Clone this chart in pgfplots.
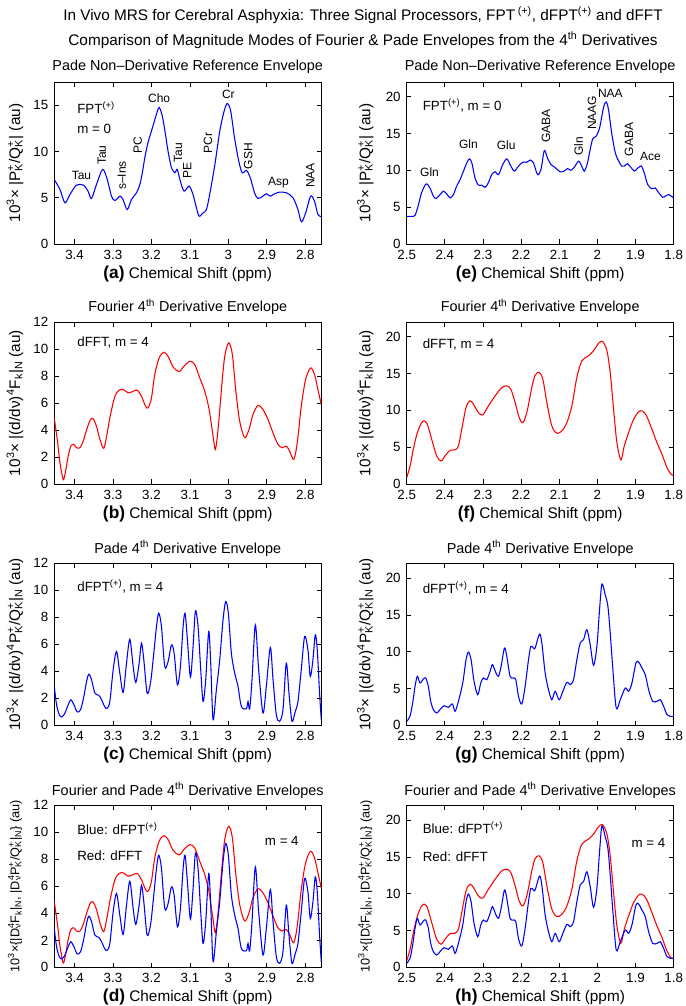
\documentclass[border=0pt]{standalone}
\usepackage{fontspec}
\setmainfont{Liberation Sans}
\usepackage{pgfplots}
\usepackage{pgfplotstable}
\pgfplotsset{compat=1.18}
\newcommand{\supsub}[2]{\rlap{\textsuperscript{#1}}\textsubscript{#2}}
\newcommand{\labfont}{\fontsize{9}{10}\selectfont}
\newcommand{\txtfont}{\fontsize{10}{12}\selectfont}
\definecolor{mblue}{rgb}{0,0,1}
\definecolor{mred}{rgb}{1,0,0}

\pgfplotstableread{
x y
3.453 6.98
3.438 5.89
3.425 4.45
3.412 5.35
3.395 6.36
3.377 6.36
3.365 5.71
3.356 4.92
3.343 6.43
3.327 8.06
3.315 6.98
3.304 5.17
3.295 4.70
3.282 5.17
3.274 4.81
3.263 3.72
3.252 4.81
3.239 5.53
3.230 6.43
3.223 7.88
3.217 9.40
3.209 10.95
3.196 12.76
3.187 14.02
3.180 14.75
3.172 13.85
3.165 12.22
3.157 10.05
3.148 8.24
3.139 7.70
3.133 8.06
3.125 6.79
3.115 5.71
3.102 6.25
3.092 5.35
3.083 3.90
3.076 3.00
3.066 3.36
3.057 3.72
3.047 5.71
3.035 8.60
3.023 12.03
3.012 14.20
3.003 15.18
2.994 14.38
2.984 11.49
2.973 8.96
2.964 7.70
2.953 7.95
2.943 7.16
2.932 5.53
2.923 4.92
2.910 5.17
2.901 5.42
2.891 5.17
2.880 5.42
2.867 5.60
2.849 5.53
2.832 4.99
2.819 3.72
2.810 2.39
2.799 3.36
2.786 5.17
2.776 4.63
2.767 3.18
2.758 2.96
}\dataA

\pgfplotstableread{
x y
2.500 3.76
2.487 3.76
2.478 3.90
2.469 5.35
2.461 6.94
2.449 8.16
2.439 7.60
2.430 6.50
2.423 6.17
2.4125 6.70
2.404 7.17
2.395 6.80
2.386 6.26
2.3775 6.70
2.369 7.85
2.360 8.75
2.351 9.90
2.3425 11.00
2.3355 11.56
2.329 11.00
2.321 9.00
2.312 8.00
2.303 8.00
2.294 7.70
2.286 8.30
2.277 9.43
2.268 9.80
2.259 9.43
2.248 10.80
2.2375 11.56
2.229 10.80
2.218 9.90
2.207 10.57
2.1955 11.10
2.185 11.10
2.176 11.40
2.1675 11.00
2.159 9.66
2.154 9.43
2.147 10.34
2.139 12.70
2.131 11.70
2.122 10.80
2.111 10.40
2.0975 9.80
2.087 9.90
2.078 10.25
2.0695 10.00
2.061 10.40
2.049 11.25
2.041 10.57
2.034 9.90
2.026 11.00
2.019 12.80
2.012 14.30
2.003 14.65
1.994 15.80
1.984 18.50
1.977 19.30
1.971 18.30
1.962 14.90
1.953 12.40
1.944 11.25
1.936 10.57
1.9295 10.57
1.921 10.90
1.912 10.40
1.903 9.90
1.894 10.30
1.885 10.60
1.877 9.66
1.868 8.07
1.857 7.50
1.848 7.60
1.839 6.94
1.829 6.35
1.822 6.50
1.813 6.70
1.800 6.26
}\dataE

\pgfplotstableread{
x y
3.453 4.90
3.445 3.30
3.438 1.58
3.431 0.47
3.428 0.35
3.4225 1.08
3.4165 2.07
3.4095 2.81
3.402 2.93
3.395 2.69
3.386 2.69
3.3775 3.18
3.367 4.16
3.3585 4.78
3.3515 4.83
3.343 4.29
3.334 3.30
3.324 2.64
3.315 3.80
3.3065 5.15
3.295 6.50
3.284 6.95
3.2735 7.00
3.2605 6.75
3.2475 6.87
3.2365 6.95
3.226 6.50
3.2155 5.77
3.2085 5.64
3.200 6.38
3.1915 8.10
3.180 9.34
3.168 9.76
3.1567 9.46
3.1437 8.67
3.128 8.33
3.116 8.72
3.100 9.09
3.0875 8.85
3.0745 7.86
3.0615 6.88
3.050 5.52
3.0398 3.55
3.0338 2.56
3.0268 4.04
3.018 7.00
3.0095 9.46
2.999 10.45
2.9896 9.59
2.981 7.00
2.9706 4.66
2.9576 3.43
2.9463 4.04
2.936 5.15
2.923 5.82
2.910 5.52
2.897 4.78
2.884 3.80
2.871 2.93
2.8597 2.69
2.8494 2.81
2.8407 2.44
2.830 1.82
2.8208 3.06
2.8104 5.77
2.7991 7.74
2.7862 8.60
2.7758 8.10
2.7671 7.00
2.7584 5.89
}\dataB

\pgfplotstableread{
x y
2.5 0.86
2.491 2.45
2.4825 4.72
2.472 6.98
2.4606 8.34
2.4536 8.57
2.4458 8.12
2.4344 6.08
2.4213 3.81
2.4099 3.13
2.3994 3.81
2.3863 4.58
2.3731 4.63
2.3644 5.17
2.3556 7.44
2.3443 10.39
2.3338 11.29
2.325 10.84
2.3119 9.70
2.3005 9.39
2.2856 10.60
2.2681 11.97
2.2506 13.10
2.2375 13.33
2.227 12.88
2.2156 11.07
2.2051 9.02
2.1955 8.34
2.185 9.70
2.1719 13.10
2.1631 14.78
2.1526 15.15
2.143 14.24
2.1325 11.07
2.1194 7.89
2.1063 6.89
2.0931 7.21
2.08 8.34
2.0669 10.60
2.0538 14.47
2.0406 16.73
2.0231 17.41
2.01 18.10
1.9969 19.10
1.9864 19.37
1.975 18.10
1.9663 15.15
1.9575 10.16
1.9488 5.62
1.9383 3.27
1.9295 5.17
1.9181 6.98
1.905 8.80
1.8919 9.80
1.8831 9.93
1.8718 9.34
1.8569 7.44
1.8438 5.62
1.8306 4.04
1.8175 2.22
1.807 1.32
1.8 1.18
}\dataF

\pgfplotstableread{
x y
3.4528 2.88
3.4468 1.53
3.4398 0.79
3.4329 0.62
3.4251 0.91
3.4165 1.53
3.4095 1.90
3.4017 1.53
3.3931 0.99
3.3844 1.16
3.3758 2.14
3.3688 3.25
3.3628 3.79
3.3558 3.38
3.3472 2.39
3.3368 2.22
3.3299 1.90
3.3212 1.36
3.3152 1.26
3.3082 1.77
3.2996 4.12
3.2909 5.47
3.2823 3.87
3.2736 2.44
3.2649 4.61
3.2563 6.38
3.2476 4.36
3.2407 3.18
3.2320 4.61
3.2260 6.09
3.2199 4.85
3.2113 2.39
3.2026 3.13
3.1957 4.85
3.1870 7.32
3.1810 8.30
3.1740 7.32
3.1654 4.36
3.1567 4.73
3.1480 5.96
3.1411 5.35
3.1325 3.00
3.1247 4.36
3.1177 7.32
3.1126 8.30
3.1065 6.33
3.0987 3.57
3.0918 5.84
3.0857 8.48
3.0788 7.32
3.0719 4.12
3.0658 1.77
3.0589 3.38
3.0511 6.95
3.0459 4.61
3.0398 0.42
3.0312 2.64
3.0225 4.85
3.0139 7.81
3.0069 9.17
3.0000 8.30
2.9922 5.35
2.9835 3.87
2.9749 2.88
2.9662 1.40
2.9532 1.23
2.9489 1.77
2.9446 1.21
2.9385 3.38
2.9299 7.44
2.9212 4.12
2.9100 0.91
2.9013 2.88
2.8909 5.77
2.8838 3.38
2.8753 0.79
2.8667 0.30
2.8580 1.16
2.8494 4.61
2.8424 2.39
2.8346 0.30
2.8260 1.03
2.8190 1.77
2.8104 4.12
2.8017 6.58
2.7931 5.59
2.7870 3.62
2.7801 4.85
2.7740 6.70
2.7688 5.59
2.7628 2.39
2.7584 0.42
}\dataC

\pgfplotstableread{
x y
2.5 0.54
2.4913 1.22
2.4843 3.03
2.4781 5.29
2.472 6.65
2.465 5.75
2.4563 6.29
2.4501 6.43
2.4431 5.29
2.437 3.26
2.43 2.13
2.4213 1.67
2.4125 2.13
2.402 2.67
2.3906 2.44
2.3801 2.90
2.3731 1.90
2.3644 3.26
2.353 5.75
2.3443 8.91
2.3381 9.95
2.3311 8.91
2.3233 5.97
2.3136 4.16
2.3058 5.75
2.2988 6.43
2.29 6.20
2.2813 7.33
2.2751 8.24
2.2664 7.19
2.2594 6.65
2.2524 8.00
2.2436 10.50
2.2375 9.37
2.2288 6.65
2.22 6.43
2.2139 6.20
2.2069 3.94
2.1981 2.90
2.1894 5.29
2.1806 8.91
2.1745 10.72
2.1675 10.50
2.1631 10.50
2.1518 12.40
2.1456 11.18
2.1369 7.10
2.1281 4.84
2.1194 3.48
2.1106 4.62
2.1001 3.48
2.0905 4.62
2.08 5.84
2.0713 5.52
2.0625 6.20
2.0538 8.91
2.045 11.18
2.0363 11.63
2.0275 12.99
2.0188 10.95
2.01 8.14
2.0013 10.72
1.9943 15.70
1.9881 19.19
1.9794 17.74
1.9724 16.15
1.9663 12.53
1.9593 7.56
1.9505 2.35
1.94 3.48
1.9269 5.07
1.9181 4.62
1.9094 5.75
1.8989 8.46
1.8919 8.60
1.8831 7.78
1.8744 6.88
1.8656 4.84
1.8551 3.26
1.8438 3.26
1.835 3.48
1.8263 2.58
1.8175 1.45
1.8088 1.22
1.8 1.22
}\dataG

\pgfplotsset{
  panel/.style={
    scale only axis, width=200.25pt, height=121.5pt, anchor=north west,
    x dir=reverse, tick align=inside, tick pos=both,
    major tick length=3.5pt,
    axis line style={line width=0.5pt},
    every tick/.style={black, line width=0.5pt},
    tick label style={font=\fontsize{10}{12}\selectfont},
    xticklabel style={yshift=-1pt},
    yticklabel style={xshift=-1pt},
    /pgf/number format/assume math mode=true,
    every axis title/.style={at={(0.5,1.0926)}, anchor=center, font=\fontsize{10.8}{12}\selectfont},
    every axis x label/.style={at={(0.5,-0.185)}, anchor=center, font=\fontsize{11.5}{13}\selectfont},
    every axis y label/.style={at={(-0.147,0.5)}, rotate=90, anchor=center, font=\fontsize{11.5}{13}\selectfont},
    ymin=0,
    every axis plot/.append style={line width=0.8pt, smooth, tension=0.5},
  },
  leftp/.style={panel, xmin=2.7584, xmax=3.4528, xtick={2.8,2.9,3,3.1,3.2,3.3,3.4}},
  rightp/.style={panel, xmin=1.8, xmax=2.5, xtick={1.8,1.9,2,2.1,2.2,2.3,2.4,2.5},
     every axis y label/.style={at={(-0.155,0.5)}, rotate=90, anchor=center, font=\fontsize{11.5}{13}\selectfont}},
  lowY/.style={ymax=12, ytick={0,2,4,6,8,10,12}},
  highY/.style={ymax=22, ytick={0,5,10,15,20}},
}
\newcommand{\xl}[1]{{\fontsize{13}{15}\selectfont\bfseries (#1)} Chemical Shift (ppm)}

\begin{document}
\begin{tikzpicture}
\path[use as bounding box] (0pt,0pt) rectangle (513.75pt,-754.5pt);
\node[font=\fontsize{11.5}{13}\selectfont] at (272.25pt,-11.25pt) {In Vivo MRS for Cerebral Asphyxia: Three Signal Processors, FPT\,\textsuperscript{(+)}, dFPT\textsuperscript{(+)} and dFFT};
\node[font=\fontsize{11.5}{13}\selectfont] at (272.25pt,-30pt) {Comparison of Magnitude Modes of Fourier \& Pade Envelopes from the 4\textsuperscript{th} Derivatives};

% (a)
\begin{axis}[leftp, at={(40.7pt,-61.5pt)}, ymax=17.5, ytick={0,5,10,15},
  title={Pade Non–Derivative Reference Envelope}, xlabel={\xl{a}},
  ylabel={10\textsuperscript{3}× |P\supsub{+}{K}/Q\supsub{+}{K}| (au)}]
\addplot[mblue] table {\dataA};
\node[font=\txtfont, anchor=west] at (axis cs:3.405,14.75) {FPT\textsuperscript{(+)}};
\node[font=\txtfont, anchor=west] at (axis cs:3.405,12.4) {m = 0};
\node[font=\labfont] at (axis cs:3.382,7.4) {Tau};
\node[font=\labfont, rotate=90] at (axis cs:3.329,9.6) {Tau};
\node[font=\labfont, rotate=90] at (axis cs:3.277,7.4) {s–Ins};
\node[font=\labfont, rotate=90] at (axis cs:3.236,10.7) {PC};
\node[font=\labfont] at (axis cs:3.180,15.8) {Cho};
\node[font=\labfont, rotate=90] at (axis cs:3.131,9.9) {Tau};
\node[font=\labfont, rotate=90] at (axis cs:3.107,7.9) {PE};
\node[font=\labfont, rotate=90] at (axis cs:3.053,10.9) {PCr};
\node[font=\labfont] at (axis cs:3.0,16.2) {Cr};
\node[font=\labfont, rotate=90] at (axis cs:2.948,9.5) {GSH};
\node[font=\labfont] at (axis cs:2.870,6.6) {Asp};
\node[font=\labfont, rotate=90] at (axis cs:2.787,7.4) {NAA};
\end{axis}

% (e)
\begin{axis}[rightp, highY, at={(305pt,-61.5pt)},
  title={Pade Non–Derivative Reference Envelope}, xlabel={\xl{e}},
  ylabel={10\textsuperscript{3}× |P\supsub{+}{K}/Q\supsub{+}{K}| (au)}]
\addplot[mblue] table {\dataE};
\node[font=\txtfont, anchor=west] at (axis cs:2.47,18.8) {FPT\textsuperscript{(+)}, m = 0};
\node[font=\labfont] at (axis cs:2.44,9.7) {Gln};
\node[font=\labfont] at (axis cs:2.338,13.5) {Gln};
\node[font=\labfont] at (axis cs:2.239,13.4) {Glu};
\node[font=\labfont, rotate=90] at (axis cs:2.135,16.0) {GABA};
\node[font=\labfont, rotate=90] at (axis cs:2.049,13.3) {Gln};
\node[font=\labfont, rotate=90] at (axis cs:2.014,17.8) {NAAG};
\node[font=\labfont] at (axis cs:1.966,20.45) {NAA};
\node[font=\labfont, rotate=90] at (axis cs:1.917,14.2) {GABA};
\node[font=\labfont] at (axis cs:1.861,11.9) {Ace};
\end{axis}

% (b)
\begin{axis}[leftp, lowY, at={(40.7pt,-241.5pt)},
  title={Fourier 4\textsuperscript{th} Derivative Envelope}, xlabel={\xl{b}},
  ylabel={10\textsuperscript{3}× |(d/dν)\textsuperscript{4}F\textsubscript{k}|\textsubscript{N} (au)}]
\addplot[mred] table {\dataB};
\node[font=\txtfont, anchor=west] at (axis cs:3.405,10.45) {dFFT, m = 4};
\end{axis}

% (f)
\begin{axis}[rightp, highY, at={(305pt,-241.5pt)},
  title={Fourier 4\textsuperscript{th} Derivative Envelope}, xlabel={\xl{f}},
  ylabel={10\textsuperscript{3}× |(d/dν)\textsuperscript{4}F\textsubscript{k}|\textsubscript{N} (au)}]
\addplot[mred] table {\dataF};
\node[font=\txtfont, anchor=west] at (axis cs:2.47,19.0) {dFFT, m = 4};
\end{axis}

% (c)
\begin{axis}[leftp, lowY, at={(40.7pt,-422.5pt)},
  title={Pade 4\textsuperscript{th} Derivative Envelope}, xlabel={\xl{c}},
  ylabel={10\textsuperscript{3}× |(d/dν)\textsuperscript{4}P\supsub{+}{K}/Q\supsub{+}{K}|\textsubscript{N} (au)}]
\addplot[mblue] table {\dataC};
\node[font=\txtfont, anchor=west] at (axis cs:3.405,10.3) {dFPT\textsuperscript{(+)}, m = 4};
\end{axis}

% (g)
\begin{axis}[rightp, highY, at={(305pt,-422.5pt)},
  title={Pade 4\textsuperscript{th} Derivative Envelope}, xlabel={\xl{g}},
  ylabel={10\textsuperscript{3}× |(d/dν)\textsuperscript{4}P\supsub{+}{K}/Q\supsub{+}{K}|\textsubscript{N} (au)}]
\addplot[mblue] table {\dataG};
\node[font=\txtfont, anchor=west] at (axis cs:2.47,18.6) {dFPT\textsuperscript{(+)}, m = 4};
\end{axis}

% (d)
\begin{axis}[leftp, lowY, at={(40.7pt,-604pt)},
  title={Fourier and Pade 4\textsuperscript{th} Derivative Envelopes}, xlabel={\xl{d}},
  every axis y label/.style={at={(-0.147,0.5)}, rotate=90, anchor=center, font=\fontsize{9.5}{11}\selectfont},
  ylabel={10\textsuperscript{3}×\{|D\supsub{4}{ν}F\textsubscript{k}|\textsubscript{N}, |D\supsub{4}{ν}P\supsub{+}{K}/Q\supsub{+}{K}|\textsubscript{N}\} (au)}]
\addplot[mred] table {\dataB};
\addplot[mblue] table {\dataC};
\node[font=\txtfont, anchor=west] at (axis cs:3.405,10.3) {Blue: dFPT\textsuperscript{(+)}};
\node[font=\txtfont, anchor=west] at (axis cs:3.405,8.3) {Red: dFFT};
\node[font=\txtfont] at (axis cs:2.861,9.4) {m = 4};
\end{axis}

% (h)
\begin{axis}[rightp, highY, at={(305pt,-604pt)},
  title={Fourier and Pade 4\textsuperscript{th} Derivative Envelopes}, xlabel={\xl{h}},
  every axis y label/.style={at={(-0.155,0.5)}, rotate=90, anchor=center, font=\fontsize{9.5}{11}\selectfont},
  ylabel={10\textsuperscript{3}×\{|D\supsub{4}{ν}F\textsubscript{k}|\textsubscript{N}, |D\supsub{4}{ν}P\supsub{+}{K}/Q\supsub{+}{K}|\textsubscript{N}\} (au)}]
\addplot[mred] table {\dataF};
\addplot[mblue] table {\dataG};
\node[font=\txtfont, anchor=west] at (axis cs:2.47,19.0) {Blue: dFPT\textsuperscript{(+)}};
\node[font=\txtfont, anchor=west] at (axis cs:2.47,15.0) {Red: dFFT};
\node[font=\txtfont] at (axis cs:1.866,16.9) {m = 4};
\end{axis}
\end{tikzpicture}
\end{document}
